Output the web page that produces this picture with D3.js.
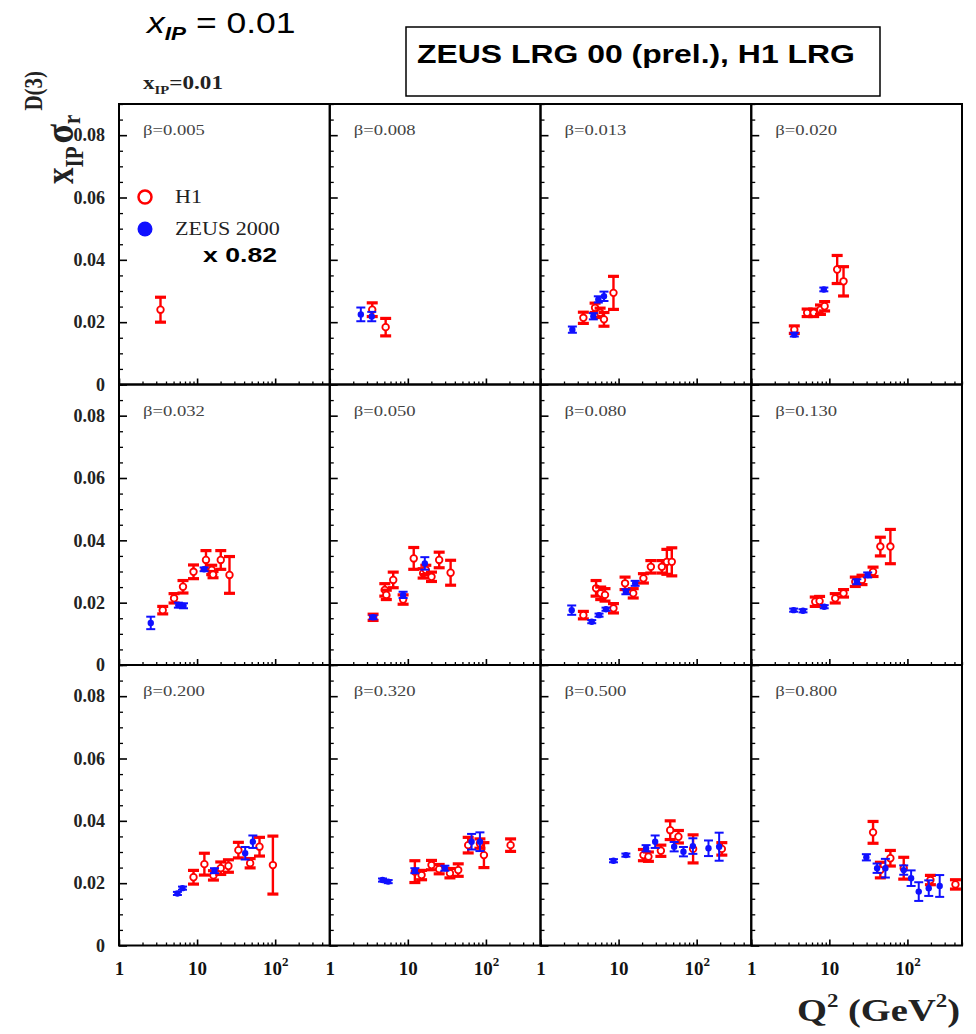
<!DOCTYPE html>
<html><head><meta charset="utf-8">
<script src="https://cdn.jsdelivr.net/npm/d3@7"></script>
<style>
body{margin:0;background:#fff;}
svg{display:block;}
</style></head>
<body>
<svg id="chart" width="976" height="1034"></svg>
<script>
// ---------- data ----------
const betaLabels = ["β=0.005","β=0.008","β=0.013","β=0.020","β=0.032","β=0.050","β=0.080","β=0.130","β=0.200","β=0.320","β=0.500","β=0.800"];
const yTickValues = [0, 0.02, 0.04, 0.06, 0.08];
const yTickLabels = ["0", "0.02", "0.04", "0.06", "0.08"];
const xTickValues = [1, 10, 100];
const xTickLabels = ["1", "10", "10"];
// H1 points: [Q2, value, error]
const h1Data = [
 [[3.4,0.024,0.004]],
 [[3.5,0.024,0.0022],[5.2,0.0184,0.0028]],
 [[3.54,0.0214,0.0018],[5.0,0.0246,0.0015],[5.8,0.023,0.0015],[6.5,0.0209,0.0022],[8.6,0.0294,0.0053]],
 [[3.56,0.0176,0.0012],[5.2,0.023,0.0012],[6.3,0.023,0.0012],[7.7,0.024,0.0015],[8.7,0.0251,0.0015],[12.6,0.0369,0.0045],[15.2,0.0331,0.0047]],
 [[3.63,0.0176,0.0012],[5.07,0.0214,0.0015],[6.6,0.0251,0.002],[9.0,0.0299,0.0022],[13.0,0.0337,0.003],[15.4,0.0305,0.0015],[16,0.029,0.001],[20.1,0.0337,0.003],[26,0.0289,0.0059]],
 [[3.59,0.0153,0.001],[5.07,0.0241,0.002],[5.3,0.0225,0.0015],[6.5,0.0273,0.0025],[8.7,0.021,0.0015],[11.9,0.0342,0.0035],[15.7,0.0294,0.0015],[17,0.0305,0.0015],[20.1,0.0283,0.0015],[25.2,0.0337,0.0025],[35.3,0.0296,0.004]],
 [[3.54,0.016,0.0012],[5.15,0.0246,0.0025],[5.9,0.023,0.002],[6.7,0.0225,0.002],[8.6,0.0182,0.0015],[12.1,0.0262,0.002],[15.4,0.023,0.0015],[20.8,0.0278,0.0015],[25.9,0.0315,0.002],[35.8,0.0315,0.002],[41.5,0.0331,0.004],[48,0.0331,0.0045]],
 [[6.6,0.0203,0.0015],[7.5,0.0205,0.0015],[11.9,0.0214,0.0015],[15.2,0.023,0.0012],[21.5,0.0267,0.0015],[26.2,0.0273,0.0015],[36.3,0.0299,0.0015],[45,0.038,0.003],[60.5,0.038,0.0055]],
 [[9.0,0.0219,0.0022],[12.4,0.0261,0.0035],[16.2,0.0225,0.0015],[20.1,0.0248,0.002],[25.2,0.0255,0.002],[33.8,0.0306,0.0025],[47.8,0.0264,0.0015],[63,0.0317,0.003],[93.5,0.0258,0.0093]],
 [[12.3,0.0237,0.0035],[15,0.0226,0.0015],[20.1,0.0258,0.0015],[25.2,0.0245,0.0015],[34.6,0.0232,0.0015],[44.2,0.0242,0.002],[59.3,0.0322,0.0025],[83.8,0.0327,0.0015],[94.3,0.029,0.004],[207,0.0322,0.002]],
 [[20.8,0.029,0.0018],[24.1,0.0285,0.0015],[34.8,0.0304,0.0018],[45.8,0.037,0.003],[58.4,0.0349,0.002],[90,0.031,0.0045],[210,0.031,0.002]],
 [[36.3,0.0363,0.0035],[45,0.0242,0.0025],[60.5,0.028,0.0025],[89.7,0.0248,0.0035],[197,0.021,0.0015],[412,0.0196,0.0015]]
];
// ZEUS 2000 points (x 0.82): [Q2, value, error]
const zeusData = [
 [],
 [[2.5,0.0225,0.0022],[3.45,0.0218,0.0015]],
 [[2.56,0.0176,0.001],[4.75,0.0219,0.001],[5.5,0.0273,0.001],[6.5,0.0283,0.0015]],
 [[3.56,0.016,0.0006],[8.5,0.0305,0.0006]],
 [[2.55,0.0135,0.002],[5.76,0.0192,0.0008],[6.7,0.019,0.0008],[12.3,0.0307,0.0006]],
 [[3.59,0.0153,0.0006],[8.7,0.0225,0.001],[16.5,0.0326,0.002]],
 [[2.51,0.0176,0.0015],[4.53,0.0139,0.0005],[5.62,0.016,0.0005],[6.9,0.0179,0.0005],[12.4,0.0235,0.0008],[16.3,0.0262,0.0008]],
 [[3.49,0.0176,0.0005],[4.6,0.0174,0.0005],[8.6,0.0187,0.0005],[22.5,0.0267,0.0008],[31,0.0289,0.0008]],
 [[5.6,0.0167,0.0005],[6.5,0.0184,0.0005],[16.7,0.024,0.0008],[41.3,0.0296,0.002],[51.8,0.0333,0.002]],
 [[4.74,0.021,0.0005],[5.6,0.0205,0.0005],[12.3,0.024,0.0008],[29.8,0.0248,0.0008],[65.5,0.0333,0.0025],[83.8,0.0333,0.003]],
 [[8.6,0.0272,0.0005],[12.4,0.029,0.0005],[22.5,0.0312,0.001],[29.4,0.0333,0.002],[51.5,0.0317,0.0015],[67.7,0.0301,0.0015],[89.4,0.0319,0.0025],[141.7,0.0312,0.0025],[194,0.0317,0.0045]],
 [[29.8,0.0283,0.001],[40.9,0.0248,0.0015],[52.2,0.0248,0.003],[89.7,0.0242,0.0015],[111.5,0.0216,0.0025],[139.6,0.0173,0.003],[187.5,0.0184,0.0025],[259,0.0191,0.0035]]
];

// ---------- layout ----------
const svg = d3.select("#chart");
const RED = "#ff0000", BLUE = "#1010ff";
const gridLeft = 119, gridTop = 104, pw = 210.75, ph = 280.5;
const nCols = 4, nRows = 3;
const serif = "'Liberation Serif','DejaVu Serif',serif";
const sans = "'Liberation Sans',Arial,sans-serif";

const x = d3.scaleLog().domain([1, 500]).range([0, pw]);
const y = d3.scaleLinear().domain([0, 0.09]).range([ph, 0]);

// place a text at (px,py) and stretch it horizontally to a target width
function fit(sel, px, py, w) {
  const bw = sel.node().getBBox().width;
  sel.attr("transform", `translate(${px},${py}) scale(${w / bw},1)`);
  return sel;
}

const minorX = [];
[1,10,100].forEach(d => { for (let k = 2; k <= 9; k++) { if (d*k <= 500) minorX.push(d*k); } });
const minorY = d3.range(0, 0.0901, 0.005).filter(v => Math.abs(v/0.02 - Math.round(v/0.02)) > 1e-6);

betaLabels.forEach((lab, i) => {
  const col = i % nCols, row = Math.floor(i / nCols);
  const g = svg.append("g").attr("transform", `translate(${gridLeft + col*pw},${gridTop + row*ph})`);

  // minor ticks
  g.append("g").attr("transform", `translate(0,${ph})`)
    .call(d3.axisBottom(x).tickValues(minorX).tickSize(-3).tickFormat(""))
    .call(a => a.select(".domain").remove())
    .call(a => a.selectAll("line").attr("stroke","#000").attr("stroke-width",1.3));
  g.append("g")
    .call(d3.axisLeft(y).tickValues(minorY).tickSize(-4).tickFormat(""))
    .call(a => a.select(".domain").remove())
    .call(a => a.selectAll("line").attr("stroke","#000").attr("stroke-width",1.3));

  // major x ticks
  const xa = g.append("g").attr("transform", `translate(0,${ph})`)
    .call(d3.axisBottom(x).tickValues(xTickValues).tickSize(-6).tickPadding(16)
      .tickFormat((d, k) => row === nRows-1 ? xTickLabels[k] : ""))
    .call(a => a.select(".domain").remove())
    .call(a => a.selectAll("line").attr("stroke","#000").attr("stroke-width",1.6));
  xa.selectAll("text").attr("font-family", serif).attr("font-weight","bold")
    .attr("font-size", 19).attr("fill","#111");
  if (row === nRows-1) {
    xa.selectAll(".tick").filter(d => d === 100).select("text")
      .append("tspan").attr("dy", -9).attr("font-size", 13).text("2");
  }
  // major y ticks
  const ya = g.append("g")
    .call(d3.axisLeft(y).tickValues(yTickValues).tickSize(-8).tickPadding(col === 0 ? 14 : 0)
      .tickFormat((d, k) => col === 0 ? yTickLabels[k] : ""))
    .call(a => a.select(".domain").remove())
    .call(a => a.selectAll("line").attr("stroke","#000").attr("stroke-width",1.6));
  ya.selectAll("text").attr("font-family", serif).attr("font-weight","bold")
    .attr("font-size", 18).attr("fill","#222");

  // frame
  g.append("rect").attr("width", pw).attr("height", ph)
    .attr("fill","none").attr("stroke","#000").attr("stroke-width",2);

  // beta label
  g.append("text").attr("transform","translate(24,31) scale(1.2,1)")
    .attr("font-family", serif).attr("font-size", 15.5).attr("fill","#444").text(lab);

  // H1
  const h = g.append("g").selectAll("g").data(h1Data[i]).join("g");
  h.append("line").attr("x1", d=>x(d[0])).attr("x2", d=>x(d[0]))
    .attr("y1", d=>y(d[1]-d[2])).attr("y2", d=>y(d[1]+d[2]))
    .attr("stroke", RED).attr("stroke-width", 2.4);
  h.append("line").attr("x1", d=>x(d[0])-5.5).attr("x2", d=>x(d[0])+5.5)
    .attr("y1", d=>y(d[1]-d[2])).attr("y2", d=>y(d[1]-d[2]))
    .attr("stroke", RED).attr("stroke-width", 3.2);
  h.append("line").attr("x1", d=>x(d[0])-5.5).attr("x2", d=>x(d[0])+5.5)
    .attr("y1", d=>y(d[1]+d[2])).attr("y2", d=>y(d[1]+d[2]))
    .attr("stroke", RED).attr("stroke-width", 3.2);
  h.append("circle").attr("cx", d=>x(d[0])).attr("cy", d=>y(d[1])).attr("r", 3.3)
    .attr("fill","#fff").attr("stroke", RED).attr("stroke-width", 1.8);

  // ZEUS
  const z = g.append("g").selectAll("g").data(zeusData[i]).join("g");
  z.append("line").attr("x1", d=>x(d[0])).attr("x2", d=>x(d[0]))
    .attr("y1", d=>y(d[1]-d[2])).attr("y2", d=>y(d[1]+d[2]))
    .attr("stroke", BLUE).attr("stroke-width", 2);
  z.append("line").attr("x1", d=>x(d[0])-4.5).attr("x2", d=>x(d[0])+4.5)
    .attr("y1", d=>y(d[1]-d[2])).attr("y2", d=>y(d[1]-d[2]))
    .attr("stroke", BLUE).attr("stroke-width", 2);
  z.append("line").attr("x1", d=>x(d[0])-4.5).attr("x2", d=>x(d[0])+4.5)
    .attr("y1", d=>y(d[1]+d[2])).attr("y2", d=>y(d[1]+d[2]))
    .attr("stroke", BLUE).attr("stroke-width", 2);
  z.append("circle").attr("cx", d=>x(d[0])).attr("cy", d=>y(d[1])).attr("r", 3.2)
    .attr("fill", BLUE);
});

// ---------- legend ----------
svg.append("circle").attr("cx",145).attr("cy",197).attr("r",6.5)
  .attr("fill","#fff").attr("stroke",RED).attr("stroke-width",2.5);
svg.append("circle").attr("cx",145).attr("cy",229).attr("r",7.5).attr("fill",BLUE);
fit(svg.append("text").attr("font-family",serif).attr("font-size",18).attr("fill","#222").text("H1"), 175, 203, 27);
fit(svg.append("text").attr("font-family",serif).attr("font-size",18).attr("fill","#222").text("ZEUS 2000"), 175, 235, 105);
fit(svg.append("text").attr("font-family",sans).attr("font-weight","bold").attr("font-size",21)
  .attr("fill","#000").text("x 0.82"), 203, 262, 74);

// ---------- titles ----------
const t = svg.append("text").attr("font-family",sans).attr("font-size",30).attr("fill","#000");
t.append("tspan").attr("font-style","italic").text("x");
t.append("tspan").attr("font-style","italic").attr("font-weight","bold").attr("font-size",19).attr("dy",7).text("IP");
t.append("tspan").attr("dy",-7).text(" = 0.01");
fit(t, 147, 33, 151);

svg.append("rect").attr("x",406).attr("y",27).attr("width",474).attr("height",69)
  .attr("fill","#fff").attr("stroke","#000").attr("stroke-width",1.5);
fit(svg.append("text").attr("font-family",sans).attr("font-weight","bold").attr("font-size",25)
  .attr("fill","#000").text("ZEUS LRG 00 (prel.), H1 LRG"), 417, 63, 438);

const s = svg.append("text").attr("font-family",serif)
  .attr("font-weight","bold").attr("font-size",19).attr("fill","#222");
s.append("tspan").text("x");
s.append("tspan").attr("font-size",12).attr("dy",5).text("IP");
s.append("tspan").attr("dy",-5).text("=0.01");
fit(s, 143, 89, 80);

// y axis label (rotated, stretched horizontally like the source)
const yl = svg.append("text").attr("transform","translate(73,184) scale(1.2,1) rotate(-90)")
  .attr("font-family",serif).attr("font-weight","bold").attr("font-size",33).attr("fill","#222");
yl.append("tspan").text("x");
yl.append("tspan").attr("font-size",21).attr("dy",8).text("IP");
yl.append("tspan").attr("dy",-8).attr("dx",3).attr("font-size",36).text("σ");
yl.append("tspan").attr("font-size",21).attr("dy",6).text("r");
yl.append("tspan").attr("font-size",21).attr("dx",4).attr("dy",-32).text("D(3)");

// x axis title
const xt = svg.append("text").attr("font-family",serif)
  .attr("font-weight","bold").attr("font-size",32).attr("fill","#222");
xt.append("tspan").text("Q");
xt.append("tspan").attr("font-size",19).attr("dy",-14).text("2");
xt.append("tspan").attr("dy",14).text(" (GeV");
xt.append("tspan").attr("font-size",19).attr("dy",-14).text("2");
xt.append("tspan").attr("dy",14).text(")");
fit(xt, 797, 1021, 163);
</script>
</body></html>
